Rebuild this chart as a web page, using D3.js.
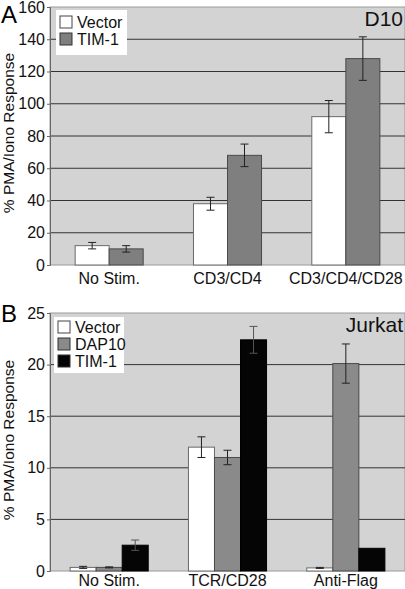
<!DOCTYPE html>
<html><head><meta charset="utf-8">
<script src="https://cdn.jsdelivr.net/npm/d3@7"></script>
<style>body{margin:0;background:#fff}svg{display:block;font-family:"Liberation Sans",Arial,sans-serif}</style>
</head><body>
<svg id="c" width="405" height="589"></svg>
<script>
// Panel A data
const catsA = ["No Stim.", "CD3/CD4", "CD3/CD4/CD28"];
const seriesA = ["Vector", "TIM-1"];
const vectorA = [12, 38, 92];
const vectorAErr = [2, 4, 10];
const tim1A = [10, 68, 128];
const tim1AErr = [2, 7, 13.5];
const ticksA = [0, 20, 40, 60, 80, 100, 120, 140, 160];

// Panel B data
const catsB = ["No Stim.", "TCR/CD28", "Anti-Flag"];
const seriesB = ["Vector", "DAP10", "TIM-1"];
const vectorB = [0.35, 12, 0.3];
const vectorBErr = [0.1, 1.0, 0.05];
const dap10B = [0.35, 11, 20.1];
const dap10BErr = [0.05, 0.7, 1.9];
const tim1B = [2.5, 22.4, 2.2];
const tim1BErr = [0.5, 1.3, 0];
const ticksB = [0, 5, 10, 15, 20, 25];

const svg = d3.select("#c");
const FONT = '"Liberation Sans",Arial,sans-serif';

function panel(opts){
  const {top, bottom, left, right, cats, series, vals, errs, fills, strk, ticks, max, letter, letterY, title, titleY, legend, labelY, xLabelY, barFrac} = opts;
  const g = svg.append("g");
  const y = d3.scaleLinear().domain([0, max]).range([bottom, top]);
  const x = d3.scaleBand().domain(cats).range([left, right]);
  const xs = d3.scaleBand().domain(series).range([0, x.bandwidth()*barFrac]);
  const off = (x.bandwidth() - x.bandwidth()*barFrac)/2;
  g.append("rect").attr("x", left).attr("y", top).attr("width", right-left).attr("height", bottom-top)
    .attr("fill", "#d3d3d3").attr("stroke", "#9a9a9a").attr("stroke-width", 1);
  // gridlines
  g.selectAll(".grid").data(ticks.filter(t => t > 0 && t < max)).join("line")
    .attr("x1", left).attr("x2", right).attr("y1", d => y(d)).attr("y2", d => y(d))
    .attr("stroke", "#333").attr("stroke-width", 1);
  // axis
  const ax = g.append("g").attr("transform", `translate(${left},0)`)
    .call(d3.axisLeft(y).tickValues(ticks).tickSize(3).tickPadding(2).tickFormat(d3.format("d")));
  ax.select(".domain").attr("stroke", "#666");
  ax.selectAll(".tick line").attr("stroke", "#666");
  ax.selectAll("text").attr("font-size", 16).attr("fill", "#111").style("font-family", FONT);
  // bars
  series.forEach((s, si) => {
    g.selectAll(".b"+si).data(cats).join("rect")
      .attr("x", c => x(c) + off + xs(s)).attr("width", xs.bandwidth())
      .attr("y", (c, i) => y(vals[si][i])).attr("height", (c, i) => bottom - y(vals[si][i]))
      .attr("fill", fills[si]).attr("stroke", strk[si]).attr("stroke-width", 1);
    // error bars
    cats.forEach((c, i) => {
      const e = errs[si][i];
      if (!e) return;
      const cx = x(c) + off + xs(s) + xs.bandwidth()/2;
      const v = vals[si][i];
      const lo = Math.max(0, v - e), hi = v + e;
      const col = fills[si] === "#050505" ? "#555" : "#222";
      g.append("line").attr("x1", cx).attr("x2", cx).attr("y1", y(lo)).attr("y2", y(hi)).attr("stroke", col).attr("stroke-width", 1);
      [lo, hi].forEach(t => g.append("line").attr("x1", cx-4).attr("x2", cx+4).attr("y1", y(t)).attr("y2", y(t)).attr("stroke", col).attr("stroke-width", 1));
    });
  });
  // x labels
  g.selectAll(".xl").data(cats).join("text")
    .attr("x", c => x(c) + x.bandwidth()/2).attr("y", xLabelY).attr("text-anchor", "middle")
    .attr("font-size", 16).attr("fill", "#111").text(c => c);
  // y label
  g.append("text").attr("transform", `translate(14,${labelY}) rotate(-90)`).attr("text-anchor", "middle")
    .attr("font-size", 15.5).attr("fill", "#111").text("% PMA/Iono Response");
  // letter
  g.append("text").attr("x", 1).attr("y", letterY).attr("font-size", 24).attr("fill", "#000").text(letter);
  // title
  g.append("text").attr("x", 403).attr("y", titleY).attr("text-anchor", "end").attr("font-size", 21).attr("fill", "#111").text(title);
  // legend
  const lg = g.append("g");
  lg.append("rect").attr("x", legend.x).attr("y", legend.y).attr("width", legend.w).attr("height", legend.h).attr("fill", "#fff");
  series.forEach((s, si) => {
    const yy = legend.y + legend.pad + si*legend.step;
    lg.append("rect").attr("x", legend.x+4).attr("y", yy).attr("width", 12).attr("height", 12)
      .attr("fill", fills[si]).attr("stroke", si === 0 ? "#444" : "#333").attr("stroke-width", 1);
    lg.append("text").attr("x", legend.x+21).attr("y", yy+12).attr("font-size", 16).attr("fill", "#111").text(s);
  });
}

panel({top: 7, bottom: 265, left: 50, right: 405, cats: catsA, series: seriesA,
  vals: [vectorA, tim1A], errs: [vectorAErr, tim1AErr], fills: ["#ffffff", "#7f7f7f"], strk: ["#6a6a6a", "#4a4a4a"],
  ticks: ticksA, max: 160, letter: "A", letterY: 23, title: "D10", titleY: 26,
  legend: {x: 56, y: 10, w: 71, h: 45, pad: 6, step: 17}, labelY: 133, xLabelY: 284, barFrac: 0.575});

panel({top: 313, bottom: 571, left: 50, right: 405, cats: catsB, series: seriesB,
  vals: [vectorB, dap10B, tim1B], errs: [vectorBErr, dap10BErr, tim1BErr], fills: ["#ffffff", "#8a8a8a", "#050505"], strk: ["#6a6a6a", "#4a4a4a", "#000"],
  ticks: ticksB, max: 25, letter: "B", letterY: 322, title: "Jurkat", titleY: 332,
  legend: {x: 54, y: 317, w: 70, h: 56, pad: 4, step: 17}, labelY: 440, xLabelY: 586, barFrac: 0.66});
</script>
</body></html>
